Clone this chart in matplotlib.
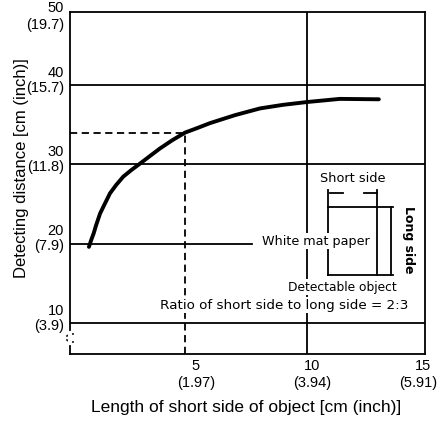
import matplotlib
matplotlib.use("Agg")
import matplotlib.pyplot as plt
from matplotlib.lines import Line2D

# ---------------- data ----------------
curve_x = [0.8, 0.9, 1.0, 1.1, 1.27, 1.45, 1.69, 1.95, 2.25, 2.6, 2.96, 3.4, 3.8,
           4.3, 4.86, 5.4, 5.92, 6.97, 8.03, 9.0, 10.0, 11.4, 13.05]
curve_y = [19.6, 20.5, 21.3, 22.3, 23.8, 24.9, 26.35, 27.4, 28.45, 29.3, 30.1, 31.1,
           32.0, 33.0, 34.0, 34.6, 35.2, 36.2, 37.05, 37.5, 37.85, 38.25, 38.2]

x_ticks = [5, 10, 15]
x_tick_cm = ["5", "10", "15"]
x_tick_inch = ["(1.97)", "(3.94)", "(5.91)"]

y_ticks = [10, 20, 30, 40]
y_tick_cm = ["10", "20", "30", "40"]
y_tick_inch = ["(3.9)", "(7.9)", "(11.8)", "(15.7)"]
y_top_cm = "50"
y_top_inch = "(19.7)"

grid_y_full = [10, 30, 40]
grid_x_full = [10]
white_paper_level = 20          # leader line for "White mat paper"
white_paper_leader_end = 7.7

example_x = 4.86                # dashed read-off point
example_y = 34.0

x_label = "Length of short side of object [cm (inch)]"
y_label = "Detecting distance [cm (inch)]"

# ---------------- figure ----------------
W, H = 445, 421
L, R, T, B = 70, 425, 12, 354
fig = plt.figure(figsize=(W / 100, H / 100), dpi=100)
ax = fig.add_axes([L / W, (H - B) / H, (R - L) / W, (B - T) / H])
ax.set_xlim(0, 15)
ax.set_ylim(6.1, 49.2)
ax.set_xticks([])
ax.set_yticks([])
for s in ax.spines.values():
    s.set_linewidth(1.3)
    s.set_color("black")

AX_FONT = "Liberation Sans"
AN_FONT = "DejaVu Sans"
TICK_FS = 10.5
lw_grid = 1.3

# grid lines
for gy in grid_y_full:
    ax.axhline(gy, color="black", lw=lw_grid, zorder=1)
for gx in grid_x_full:
    ax.axvline(gx, color="black", lw=lw_grid, zorder=1)
ax.plot([0, white_paper_leader_end], [white_paper_level, white_paper_level],
        color="black", lw=lw_grid, zorder=1)

# dashed read-off lines
ax.plot([0, example_x], [example_y, example_y], color="black", lw=1.3,
        ls=(0, (4, 2.5)), zorder=1)
ax.plot([example_x, example_x], [6.1, example_y], color="black", lw=1.3,
        ls=(0, (4, 2.5)), zorder=1)

# characteristic curve
ax.plot(curve_x, curve_y, color="black", lw=2.8, solid_capstyle="round",
        solid_joinstyle="round", zorder=3)

# ---------------- tick labels ----------------
def pt(px):
    return px * 0.72

for v, a, b in zip(y_ticks, y_tick_cm, y_tick_inch):
    ax.annotate(b, xy=(0, v), xycoords=("axes fraction", "data"),
                xytext=(pt(-6), pt(-1)), textcoords="offset points",
                ha="right", va="center_baseline", fontsize=TICK_FS, family=AX_FONT)
    ax.annotate(a, xy=(0, v), xycoords=("axes fraction", "data"),
                xytext=(pt(-6), pt(14)), textcoords="offset points",
                ha="right", va="center_baseline", fontsize=TICK_FS, family=AX_FONT)
ax.annotate(y_top_inch, xy=(0, 1), xycoords="axes fraction",
            xytext=(pt(-6), pt(-12)), textcoords="offset points",
            ha="right", va="center_baseline", fontsize=TICK_FS, family=AX_FONT)
ax.annotate(y_top_cm, xy=(0, 1), xycoords="axes fraction",
            xytext=(pt(-6), pt(5)), textcoords="offset points",
            ha="right", va="center_baseline", fontsize=TICK_FS, family=AX_FONT)

dx_cm = [7, 5, -2]
dx_in = [8, 6, -7]
for v, a, b, d1, d2 in zip(x_ticks, x_tick_cm, x_tick_inch, dx_cm, dx_in):
    ax.annotate(a, xy=(v, 0), xycoords=("data", "axes fraction"),
                xytext=(pt(d1), pt(-10)), textcoords="offset points",
                ha="center", va="center_baseline", fontsize=TICK_FS, family=AX_FONT)
    ax.annotate(b, xy=(v, 0), xycoords=("data", "axes fraction"),
                xytext=(pt(d2), pt(-27)), textcoords="offset points",
                ha="center", va="center_baseline", fontsize=TICK_FS, family=AX_FONT)

fig.text(246 / W, 1 - 406 / H, x_label, ha="center", va="center_baseline",
         fontsize=12.5, family=AX_FONT)
fig.text(22 / W, 1 - 168 / H, y_label, ha="center", va="center",
         rotation=90, fontsize=12, family=AX_FONT)

# ---------------- illustration (axes-fraction positions) ----------------
def P(px, py):
    return ((px - L) / (R - L), (B - py) / (B - T))

def seg(p1, p2, lw=1.3):
    (x1, y1), (x2, y2) = P(*p1), P(*p2)
    ax.add_line(Line2D([x1, x2], [y1, y2], transform=ax.transAxes,
                       color="black", lw=lw, zorder=4, clip_on=False))

# object rectangle
seg((328, 207), (393, 207))
seg((328, 275), (393, 275))
seg((328, 190), (328, 275))
seg((377, 190), (377, 275))
# short side dimension
seg((330, 193), (343, 193))
seg((364, 193), (377, 193))
# long side dimension
seg((391, 207), (391, 275))

bbox = dict(facecolor="white", edgecolor="none", pad=1.0)
tx = dict(transform=ax.transAxes, family=AN_FONT,
          ha="center", va="center", zorder=5)
ax.text(*P(353, 178), "Short side", fontsize=9.3, bbox=bbox, **tx)
ax.text(*P(316, 241), "White mat paper", fontsize=9.2, bbox=bbox, **tx)
ax.text(*P(409, 240), "Long side", rotation=270, fontsize=9,
        fontweight="bold", bbox=bbox, **tx)
ax.text(*P(342, 287), "Detectable object", fontsize=8.8, bbox=bbox, **tx)
ax.text(*P(284, 305), "Ratio of short side to long side = 2:3", fontsize=9.7,
        bbox=bbox, **tx)

# axis break mark on the y axis
(bx, by1), (_, by2) = P(70, 343), P(70, 333)
ax.add_line(Line2D([bx, bx], [by1, by2], transform=ax.transAxes,
                   color="white", lw=3, zorder=6, clip_on=False))
seg((70, 334), (73, 334), lw=1.2)
seg((70, 342), (73, 342), lw=1.2)
seg((67, 336), (70, 334), lw=1.2)
seg((67, 340), (70, 342), lw=1.2)

fig.savefig("out.png", dpi=100)
